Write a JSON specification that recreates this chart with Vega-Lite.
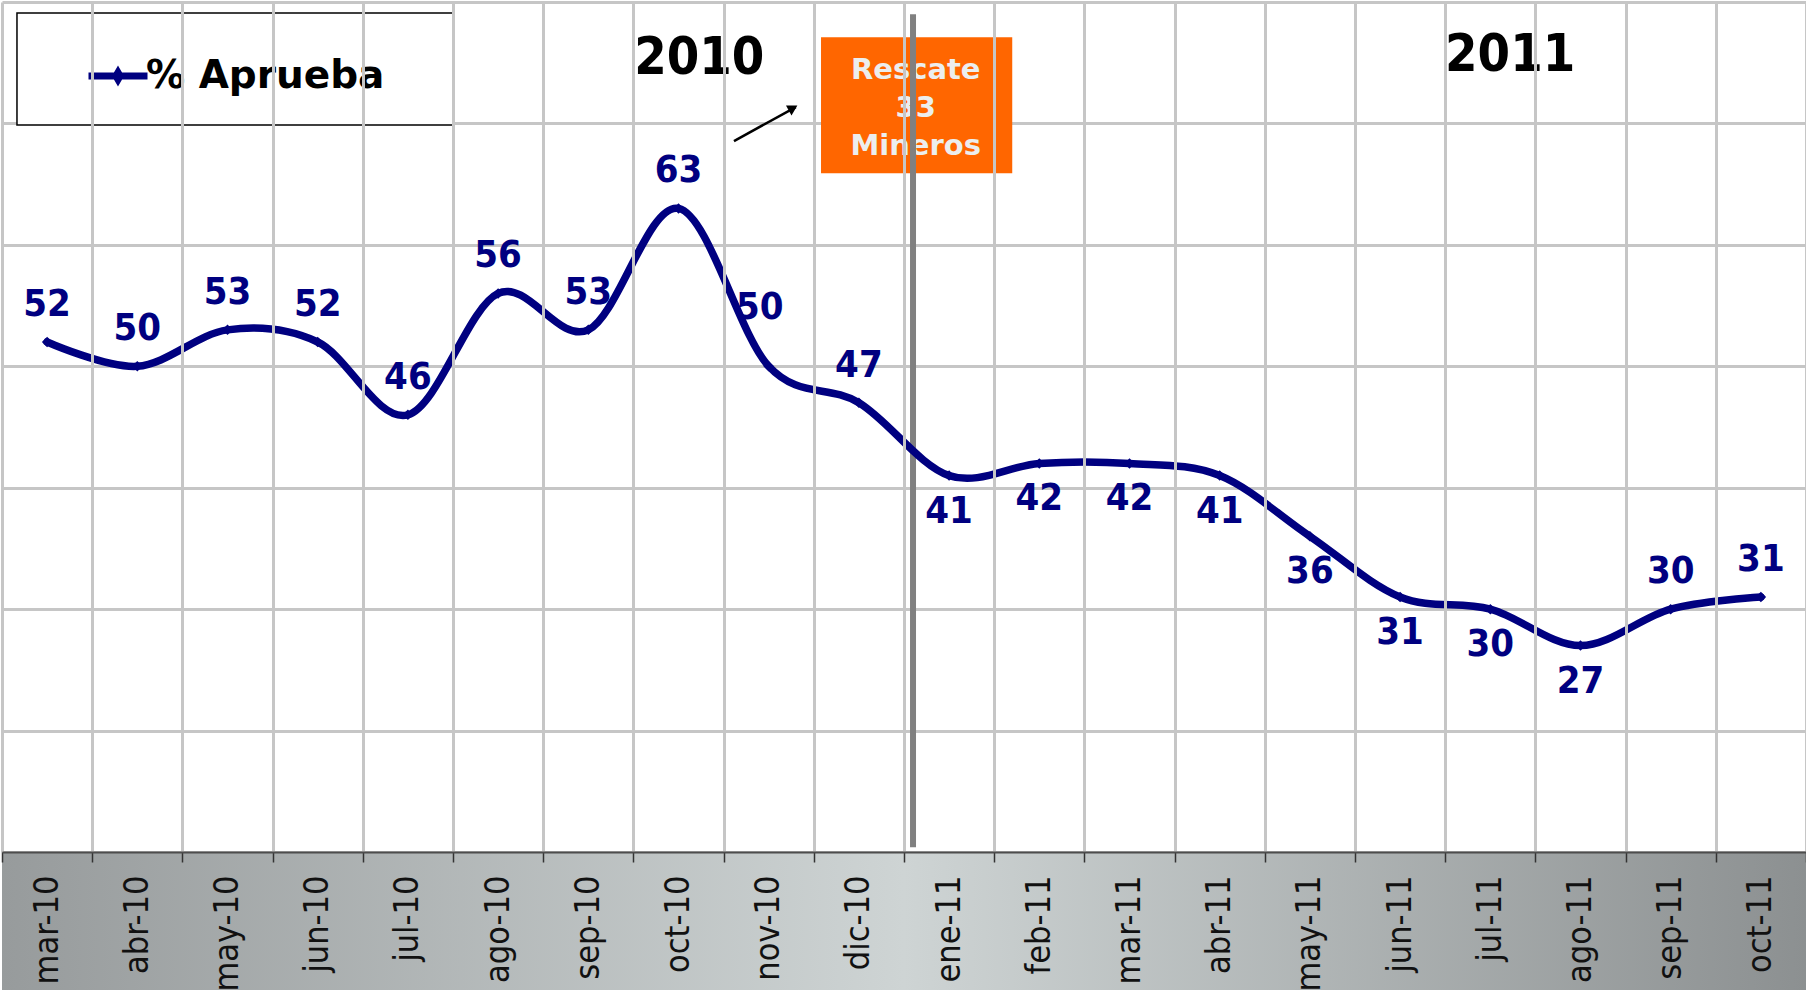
{
  "$schema": "https://vega.github.io/schema/vega-lite/v6.json",
  "autosize": "none",
  "width": 1804,
  "height": 850,
  "padding": {"left": 2, "top": 2, "right": 0, "bottom": 138},
  "background": "white",
  "config": {
    "view": {"stroke": null},
    "axisY": {"domain": false, "ticks": false, "labels": false, "grid": true, "gridColor": "#c6c6c6", "gridWidth": 3}
  },
  "data": {
    "values": [
      {"mes": "mar-10", "aprueba": 52},
      {"mes": "abr-10", "aprueba": 50},
      {"mes": "may-10", "aprueba": 53},
      {"mes": "jun-10", "aprueba": 52},
      {"mes": "jul-10", "aprueba": 46},
      {"mes": "ago-10", "aprueba": 56},
      {"mes": "sep-10", "aprueba": 53},
      {"mes": "oct-10", "aprueba": 63},
      {"mes": "nov-10", "aprueba": 50},
      {"mes": "dic-10", "aprueba": 47},
      {"mes": "ene-11", "aprueba": 41},
      {"mes": "feb-11", "aprueba": 42},
      {"mes": "mar-11", "aprueba": 42},
      {"mes": "abr-11", "aprueba": 41},
      {"mes": "may-11", "aprueba": 36},
      {"mes": "jun-11", "aprueba": 31},
      {"mes": "jul-11", "aprueba": 30},
      {"mes": "ago-11", "aprueba": 27},
      {"mes": "sep-11", "aprueba": 30},
      {"mes": "oct-11", "aprueba": 31}
    ]
  },
  "layer": [
    {
      "layer": [
        {
          "data": {"values": [{}]},
          "mark": {"type": "rect", "clip": false, "color": {"gradient": "linear", "x1": 0, "y1": 0, "x2": 1, "y2": 0, "stops": [{"offset": 0, "color": "#979b9c"}, {"offset": 0.5, "color": "#ced4d4"}, {"offset": 1, "color": "#8c9091"}]}},
          "encoding": {
            "y": {"datum": 10, "type": "quantitative", "scale": {"domain": [10, 80], "nice": false, "zero": false}, "title": null, "axis": {"values": [10, 20, 30, 40, 50, 60, 70, 80]}},
            "y2": {"datum": -2}
          }
        },
        {
          "data": {"values": [{}]},
          "mark": {"type": "rect", "fill": "#ffffff", "stroke": "#000000", "strokeWidth": 1.5},
          "encoding": {
            "x": {"datum": -0.334, "type": "quantitative", "scale": {"domain": [-0.5, 19.5], "nice": false, "zero": false}, "axis": null},
            "x2": {"datum": 4.5},
            "y": {"datum": 79.09, "type": "quantitative", "title": null},
            "y2": {"datum": 69.87}
          }
        },
        {
          "data": {"values": [{}]},
          "mark": {"type": "rect", "color": "#ff6600"},
          "encoding": {
            "x": {"datum": 8.58, "type": "quantitative"},
            "x2": {"datum": 10.7},
            "y": {"datum": 77.1, "type": "quantitative", "title": null},
            "y2": {"datum": 65.9}
          }
        },
        {
          "data": {"values": [{}]},
          "mark": {"type": "text", "align": "center", "baseline": "alphabetic", "font": "DejaVu Sans", "fontWeight": "bold", "fontSize": 29, "lineHeight": 38, "color": "#eceeee"},
          "encoding": {
            "x": {"datum": 9.63, "type": "quantitative"},
            "y": {"datum": 73.66, "type": "quantitative", "title": null},
            "text": {"value": ["Rescate", "33", "Mineros"]}
          }
        },
        {
          "data": {"values": [{}]},
          "mark": {"type": "rule", "color": "#808080", "strokeWidth": 6},
          "encoding": {
            "x": {"datum": 9.6, "type": "quantitative"},
            "y": {"datum": 79.0, "type": "quantitative", "title": null},
            "y2": {"datum": 10.4}
          }
        },
        {
          "data": {"values": [{}]},
          "mark": {"type": "rule", "color": "black", "strokeWidth": 2.5},
          "encoding": {
            "x": {"datum": 7.615, "type": "quantitative"},
            "x2": {"datum": 8.3},
            "y": {"datum": 68.55, "type": "quantitative", "title": null},
            "y2": {"datum": 71.35}
          }
        },
        {
          "data": {"values": [{}]},
          "mark": {"type": "point", "shape": "triangle-up", "angle": 61, "filled": true, "color": "black", "opacity": 1, "size": 130},
          "encoding": {
            "x": {"datum": 8.27, "type": "quantitative"},
            "y": {"datum": 71.27, "type": "quantitative", "title": null}
          }
        },
        {
          "data": {"values": [{}]},
          "mark": {"type": "text", "align": "center", "baseline": "alphabetic", "font": "DejaVu Sans Condensed", "fontWeight": "bold", "fontSize": 52, "color": "black"},
          "encoding": {
            "x": {"datum": 7.23, "type": "quantitative"},
            "y": {"datum": 74.07, "type": "quantitative", "title": null},
            "text": {"value": "2010"}
          }
        },
        {
          "data": {"values": [{}]},
          "mark": {"type": "text", "align": "center", "baseline": "alphabetic", "font": "DejaVu Sans Condensed", "fontWeight": "bold", "fontSize": 52, "color": "black"},
          "encoding": {
            "x": {"datum": 16.22, "type": "quantitative"},
            "y": {"datum": 74.32, "type": "quantitative", "title": null},
            "text": {"value": "2011"}
          }
        }
      ]
    },
    {
      "encoding": {
        "x": {
          "field": "mes", "type": "ordinal", "sort": null, "title": null,
          "scale": {"type": "band", "paddingInner": 0, "paddingOuter": 0,
            "domain": ["mar-10", "abr-10", "may-10", "jun-10", "jul-10", "ago-10", "sep-10", "oct-10", "nov-10", "dic-10", "ene-11", "feb-11", "mar-11", "abr-11", "may-11", "jun-11", "jul-11", "ago-11", "sep-11", "oct-11"]},
          "axis": {
            "orient": "bottom",
            "tickBand": "extent", "grid": true, "gridColor": "#c6c6c6", "gridWidth": 3,
            "domainColor": "#4d4d4d", "domainWidth": 2, "tickColor": "#333333", "tickWidth": 1.5, "tickSize": 10,
            "labelAngle": 270, "labelAlign": "right", "labelBaseline": "middle", "labelPadding": 13,
            "labelFont": "DejaVu Sans Condensed", "labelFontSize": 34, "labelColor": "#111111", "labelOverlap": false, "zindex": 1
          }
        },
        "y": {"field": "aprueba", "type": "quantitative", "title": null, "scale": {"domain": [10, 80], "nice": false, "zero": false}}
      },
      "layer": [
        {
          "mark": {"type": "line", "interpolate": "cardinal", "strokeWidth": 7.5, "strokeCap": "round", "point": {"shape": "diamond", "size": 110, "filled": true, "opacity": 1}},
          "encoding": {
            "color": {
              "datum": "% Aprueba", "type": "nominal", "scale": {"range": ["#000080"]},
              "legend": {
                "title": null, "orient": "none", "legendX": 15, "legendY": 11,
                "strokeColor": "transparent", "fillColor": "transparent", "padding": 30,
                "symbolType": "M-1,0L1,0M0,-0.12L0.07,0L0,0.12L-0.07,0Z", "symbolSize": 3481, "symbolStrokeWidth": 7,
                "symbolFillColor": "#000080", "symbolStrokeColor": "#000080", "symbolOffset": 38, "labelOffset": -5,
                "labelFont": "DejaVu Sans", "labelFontWeight": "bold", "labelFontSize": 39, "labelColor": "#000000", "labelLimit": 600
              }
            }
          }
        },
        {
          "transform": [{"filter": {"field": "mes", "oneOf": ["mar-10", "abr-10", "may-10", "jun-10", "jul-10", "ago-10", "sep-10", "oct-10", "dic-10", "sep-11", "oct-11"]}}],
          "mark": {"type": "text", "baseline": "middle", "align": "center", "dy": -37, "font": "DejaVu Sans Condensed", "fontWeight": "bold", "fontSize": 38, "color": "#000080"},
          "encoding": {"text": {"field": "aprueba", "type": "quantitative"}}
        },
        {
          "transform": [{"filter": {"field": "mes", "equal": "nov-10"}}],
          "mark": {"type": "text", "baseline": "middle", "align": "center", "dx": -9, "dy": -58, "font": "DejaVu Sans Condensed", "fontWeight": "bold", "fontSize": 38, "color": "#000080"},
          "encoding": {"text": {"field": "aprueba", "type": "quantitative"}}
        },
        {
          "transform": [{"filter": {"field": "mes", "oneOf": ["ene-11", "feb-11", "mar-11", "abr-11", "may-11", "jun-11", "jul-11", "ago-11"]}}],
          "mark": {"type": "text", "baseline": "middle", "align": "center", "dy": 36, "font": "DejaVu Sans Condensed", "fontWeight": "bold", "fontSize": 38, "color": "#000080"},
          "encoding": {"text": {"field": "aprueba", "type": "quantitative"}}
        }
      ]
    }
  ],
  "resolve": {"scale": {"x": "independent"}, "axis": {"x": "independent"}}
}
